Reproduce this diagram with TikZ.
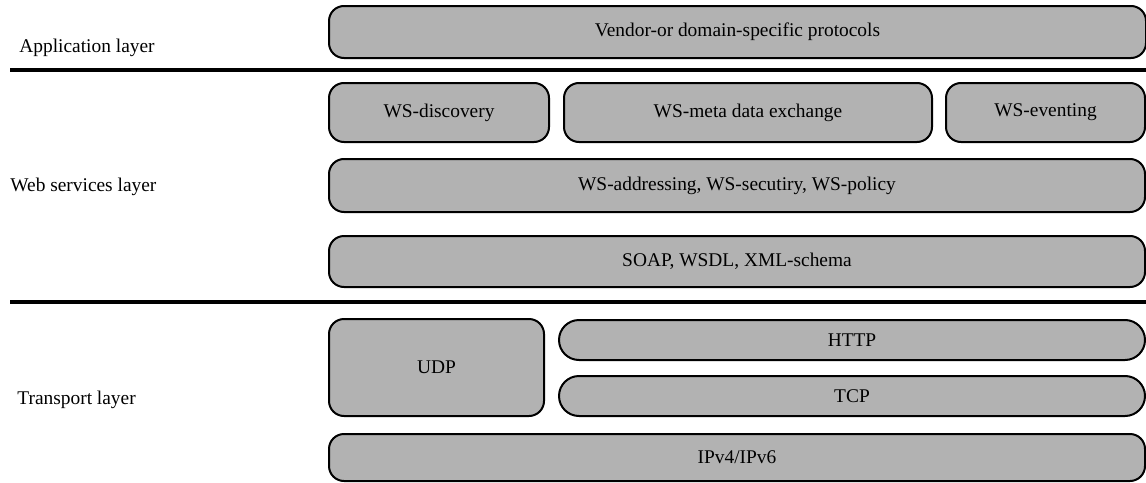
\documentclass[tikz,border=0pt]{standalone}
\usepackage{fontspec}
\setmainfont{Liberation Serif}
\definecolor{boxgray}{gray}{0.70}
\begin{document}
\begin{tikzpicture}[x=0.5pt,y=-0.5pt,
  box/.style={draw=black, line width=1pt, fill=boxgray, rounded corners=7.5pt,
    anchor=north west, inner sep=0pt, font=\fontsize{9.7}{11}\selectfont},
  pill/.style={box, rounded corners=10pt},
  sep/.style={line width=1.8pt, black},
  lab/.style={anchor=west, inner sep=0pt, font=\fontsize{9.7}{11}\selectfont}]
\useasboundingbox (0,0) rectangle (1146,482);
\node[box, minimum width=408.5pt, minimum height=26pt] (app) at (328,5) {Vendor-or domain-specific protocols};
\node[box, minimum width=110pt, minimum height=29.5pt] (disc) at (328,82) {WS-discovery};
\node[box, minimum width=184pt, minimum height=29.5pt] (meta) at (563,82) {WS-meta data exchange};
\node[box, minimum width=99.5pt, minimum height=29.5pt] (event) at (945,82) {WS-eventing};
\node[box, minimum width=408pt, minimum height=26.5pt] (addr) at (328,158) {WS-addressing, WS-secutiry, WS-policy};
\node[box, minimum width=408pt, minimum height=25.5pt] (soap) at (328,235) {SOAP, WSDL, XML-schema};
\node[box, minimum width=107.5pt, minimum height=48.5pt] (udp) at (328,318) {UDP};
\node[pill, minimum width=293pt, minimum height=20pt] (http) at (558,319) {HTTP};
\node[pill, minimum width=293pt, minimum height=20pt] (tcp) at (558,375) {TCP};
\node[box, minimum width=408pt, minimum height=23.5pt] (ip) at (328,433) {IPv4/IPv6};
\coordinate (s1a) at (10,70); \coordinate (s1b) at (1146,70);
\coordinate (s2a) at (10,302); \coordinate (s2b) at (1146,302);
\draw[sep] (s1a) -- (s1b);
\draw[sep] (s2a) -- (s2b);
\node[lab] (lapp) at (19,48) {Application layer};
\node[lab] (lws) at (10,187) {Web services layer};
\node[lab] (ltr) at (17,400) {Transport layer};
\end{tikzpicture}
\end{document}
